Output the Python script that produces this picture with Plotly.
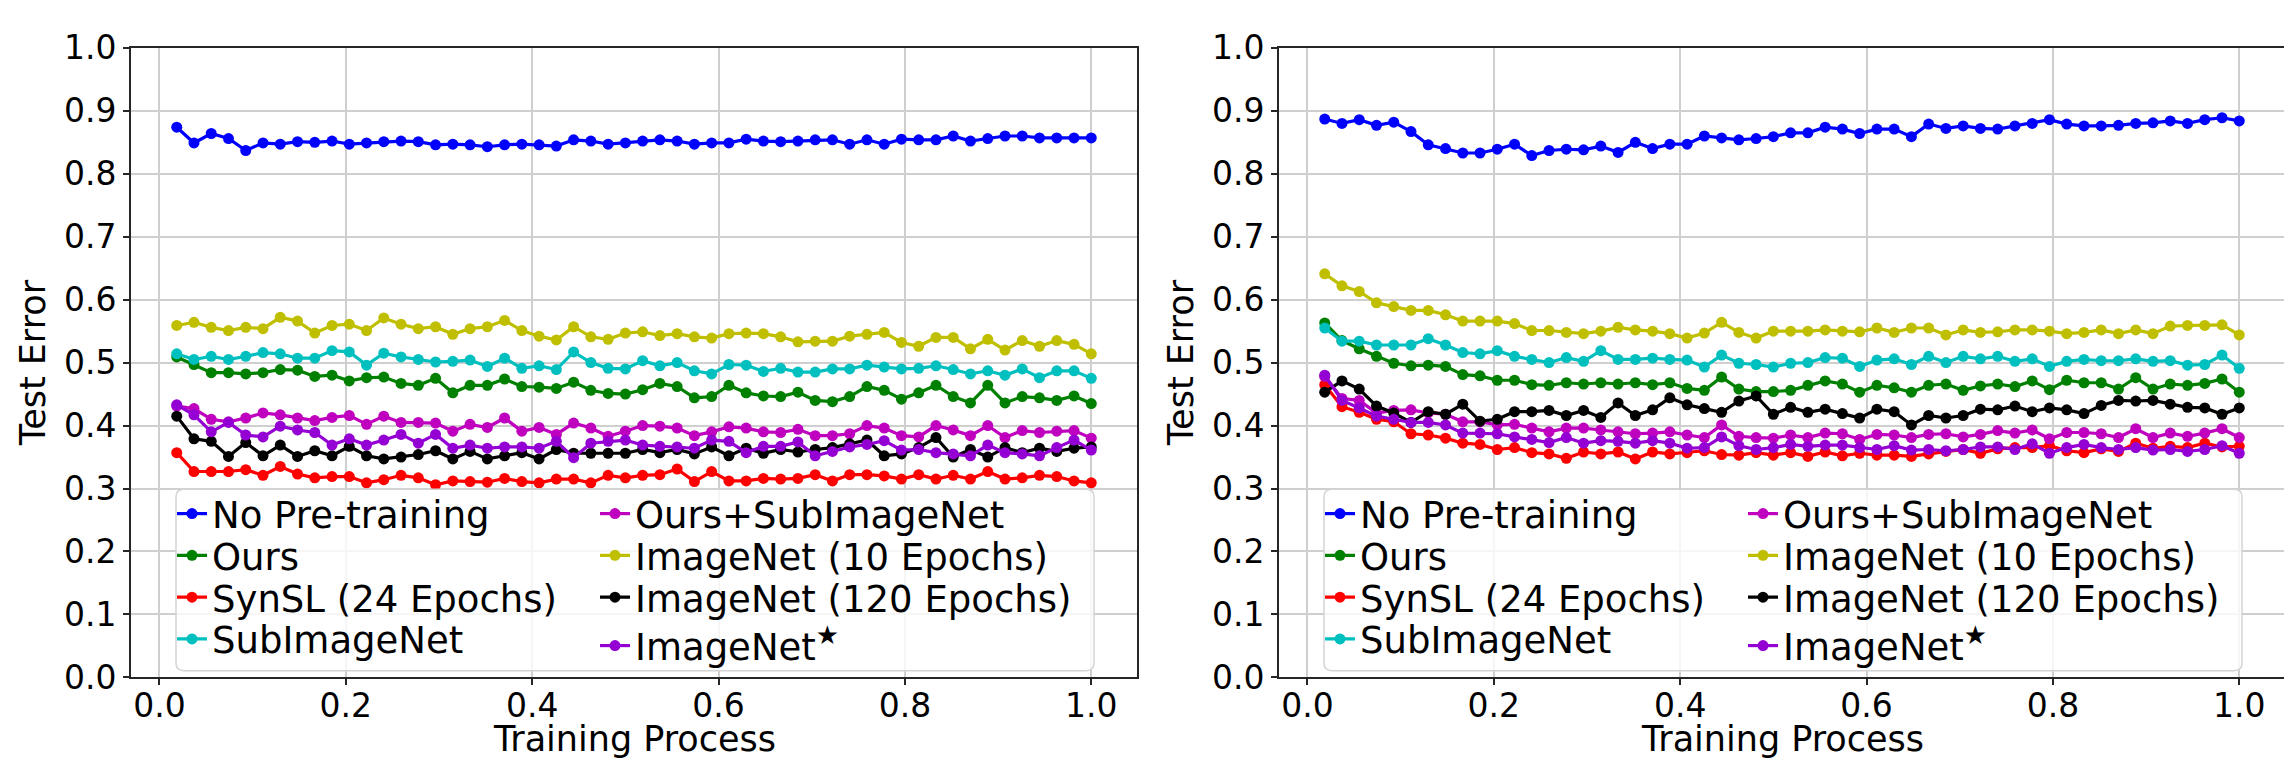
import numpy as np
import plotly.graph_objects as go

# ---------------- data ----------------
training_process = np.arange(1, 55) / 54.0

series_names = ["No Pre-training", "Ours", "SynSL (24 Epochs)", "SubImageNet",
                "Ours+SubImageNet", "ImageNet (10 Epochs)", "ImageNet (120 Epochs)",
                "ImageNet<sup>★</sup>"]
series_colors = ["#0000ff", "#008000", "#ff0000", "#00bfbf",
                 "#bf00bf", "#bfbf00", "#000000", "#9400d3"]

left_no_pretraining = [0.874,0.849,0.864,0.856,0.837,0.849,0.847,0.851,0.850,0.852,
                       0.847,0.849,0.851,0.852,0.851,0.846,0.847,0.846,0.843,0.846,
                       0.847,0.846,0.844,0.854,0.852,0.847,0.849,0.852,0.854,0.852,
                       0.847,0.849,0.849,0.855,0.852,0.851,0.852,0.854,0.854,0.847,
                       0.854,0.847,0.855,0.854,0.854,0.860,0.852,0.856,0.860,0.860,
                       0.857,0.857,0.857,0.857]
left_ours = [0.509,0.497,0.484,0.484,0.482,0.484,0.489,0.488,0.478,0.480,
             0.471,0.476,0.477,0.467,0.464,0.475,0.452,0.464,0.464,0.474,
             0.462,0.461,0.459,0.469,0.456,0.451,0.450,
             0.457,0.467,0.462,0.444,0.446,0.464,0.452,0.447,0.446,0.453,
             0.440,0.438,0.446,0.462,0.456,0.442,0.452,0.464,0.446,0.436,
             0.464,0.436,0.446,0.444,0.440,0.447,0.435]
left_synsl = [0.357,0.327,0.327,0.327,0.330,0.321,0.335,0.323,0.317,0.319,
              0.319,0.309,0.314,0.321,0.317,0.306,0.312,0.311,0.310,0.316,
              0.311,0.309,0.315,0.315,0.309,0.321,0.317,
              0.321,0.322,0.331,0.311,0.327,0.312,0.312,0.316,0.315,0.316,
              0.322,0.312,0.322,0.322,0.320,0.315,0.322,0.315,0.321,0.315,
              0.327,0.315,0.317,0.321,0.319,0.312,0.309]
left_subimagenet = [0.514,0.505,0.510,0.505,0.510,0.516,0.514,0.507,0.507,0.519,
                    0.517,0.496,0.515,0.509,0.505,0.501,0.502,0.504,0.494,0.507,
                    0.491,0.495,0.489,0.517,0.500,0.491,0.490,
                    0.503,0.495,0.500,0.487,0.482,0.497,0.496,0.486,0.491,0.485,
                    0.485,0.490,0.490,0.496,0.493,0.490,0.491,0.495,0.489,0.482,
                    0.487,0.480,0.490,0.476,0.487,0.487,0.475]
left_ours_sub = [0.431,0.427,0.410,0.406,0.412,0.420,0.417,0.412,0.408,0.413,
                 0.416,0.402,0.415,0.405,0.405,0.404,0.391,0.402,0.397,0.412,
                 0.391,0.397,0.386,0.404,0.396,0.383,0.391,
                 0.400,0.399,0.396,0.384,0.390,0.398,0.396,0.390,0.389,0.394,
                 0.384,0.384,0.387,0.400,0.396,0.384,0.382,0.400,0.393,0.384,
                 0.400,0.381,0.392,0.389,0.391,0.392,0.380]
left_imagenet10 = [0.559,0.564,0.556,0.551,0.556,0.554,0.572,0.566,0.547,0.559,
                   0.561,0.551,0.571,0.561,0.554,0.557,0.545,0.554,0.557,0.567,
                   0.551,0.542,0.536,0.557,0.541,0.537,0.547,
                   0.549,0.543,0.546,0.541,0.539,0.546,0.547,0.546,0.541,0.533,
                   0.534,0.534,0.542,0.545,0.548,0.532,0.526,0.540,0.540,0.522,
                   0.537,0.520,0.535,0.526,0.535,0.529,0.514]
left_imagenet120 = [0.415,0.379,0.375,0.351,0.373,0.352,0.369,0.351,0.360,0.352,
                    0.367,0.352,0.347,0.350,0.354,0.360,0.347,0.359,0.347,0.352,
                    0.357,0.347,0.362,0.356,0.356,0.356,0.356,
                    0.362,0.357,0.362,0.355,0.366,0.352,0.364,0.356,0.362,0.358,
                    0.362,0.365,0.371,0.377,0.352,0.355,0.365,0.381,0.350,0.362,
                    0.350,0.365,0.357,0.364,0.359,0.364,0.366]
left_imagenet_star = [0.433,0.417,0.390,0.405,0.385,0.382,0.399,0.393,0.389,0.369,
                      0.379,0.369,0.377,0.386,0.372,0.386,0.364,0.369,0.364,0.366,
                      0.366,0.364,0.375,0.349,0.372,0.375,0.377,
                      0.369,0.367,0.366,0.364,0.377,0.375,0.357,0.367,0.367,0.374,
                      0.352,0.359,0.366,0.370,0.376,0.361,0.362,0.357,0.355,0.352,
                      0.369,0.357,0.355,0.352,0.365,0.377,0.361]

right_no_pretraining = [0.887,0.880,0.886,0.877,0.882,0.867,0.846,0.840,0.833,0.833,
                        0.839,0.847,0.829,0.837,0.839,0.838,0.844,0.834,0.850,0.840,
                        0.847,0.847,0.860,0.857,0.854,0.856,0.859,0.865,0.865,0.874,
                        0.871,0.864,0.871,0.871,0.859,0.879,0.872,0.876,0.872,0.871,
                        0.876,0.880,0.886,0.879,0.876,0.876,0.877,0.880,0.881,0.884,
                        0.880,0.886,0.889,0.884]
right_ours = [0.563,0.535,0.522,0.510,0.499,0.495,0.496,0.494,0.481,0.479,
              0.472,0.472,0.465,0.464,0.468,0.466,0.468,0.466,0.468,0.465,
              0.468,0.459,0.456,0.477,0.458,0.454,0.454,
              0.456,0.464,0.471,0.466,0.453,0.464,0.460,0.453,0.464,0.466,
              0.456,0.463,0.466,0.462,0.471,0.457,0.472,0.468,0.468,0.458,
              0.476,0.458,0.466,0.464,0.467,0.474,0.453]
right_synsl = [0.465,0.430,0.421,0.410,0.406,0.387,0.385,0.380,0.372,0.370,
               0.362,0.365,0.357,0.355,0.348,0.358,0.355,0.358,0.347,0.358,
               0.355,0.357,0.360,0.354,0.353,0.357,0.353,
               0.357,0.351,0.358,0.352,0.356,0.353,0.353,0.351,0.355,0.359,
               0.362,0.356,0.363,0.365,0.365,0.368,0.360,0.357,0.363,0.359,
               0.372,0.364,0.367,0.365,0.372,0.366,0.367]
right_subimagenet = [0.555,0.534,0.534,0.528,0.528,0.528,0.538,0.528,0.516,0.514,
                     0.519,0.510,0.505,0.500,0.508,0.502,0.519,0.505,0.505,0.507,
                     0.505,0.504,0.493,0.512,0.499,0.497,0.493,
                     0.499,0.500,0.508,0.507,0.494,0.504,0.506,0.497,0.510,0.500,
                     0.510,0.506,0.510,0.502,0.506,0.494,0.502,0.505,0.503,0.503,
                     0.506,0.502,0.503,0.496,0.497,0.512,0.491]
right_ours_sub = [0.478,0.443,0.440,0.420,0.424,0.425,0.420,0.418,0.406,0.406,
                  0.401,0.402,0.396,0.390,0.396,0.396,0.393,0.390,0.387,0.388,
                  0.390,0.385,0.381,0.401,0.383,0.381,0.380,
                  0.385,0.381,0.388,0.387,0.378,0.386,0.385,0.381,0.386,0.387,
                  0.382,0.386,0.392,0.388,0.393,0.379,0.389,0.389,0.387,0.381,
                  0.395,0.381,0.388,0.383,0.388,0.395,0.381]
right_imagenet10 = [0.641,0.622,0.613,0.595,0.589,0.583,0.583,0.576,0.566,0.566,
                    0.566,0.562,0.551,0.551,0.548,0.546,0.550,0.556,0.552,0.550,
                    0.546,0.539,0.547,0.564,0.548,0.539,0.550,
                    0.550,0.550,0.552,0.550,0.549,0.555,0.548,0.555,0.555,0.544,
                    0.552,0.548,0.549,0.552,0.552,0.550,0.546,0.548,0.552,0.546,
                    0.552,0.546,0.558,0.559,0.559,0.560,0.544]
right_imagenet120 = [0.453,0.471,0.458,0.431,0.420,0.405,0.422,0.418,0.434,0.407,
                     0.410,0.422,0.422,0.424,0.416,0.424,0.413,0.436,0.416,0.425,
                     0.444,0.433,0.427,0.421,0.439,0.447,0.418,
                     0.429,0.421,0.426,0.419,0.412,0.426,0.422,0.401,0.416,0.412,
                     0.416,0.426,0.425,0.431,0.422,0.428,0.425,0.419,0.432,0.440,
                     0.439,0.440,0.434,0.429,0.428,0.418,0.428]
right_imagenet_star = [0.480,0.440,0.428,0.415,0.410,0.405,0.405,0.401,0.388,0.388,
                       0.387,0.382,0.378,0.373,0.381,0.372,0.376,0.375,0.372,0.376,
                       0.372,0.364,0.365,0.382,0.368,0.362,0.365,
                       0.370,0.367,0.369,0.369,0.365,0.362,0.368,0.361,0.362,0.360,
                       0.362,0.366,0.366,0.362,0.371,0.356,0.365,0.370,0.365,0.362,
                       0.365,0.361,0.362,0.359,0.362,0.368,0.356]

left_series = [left_no_pretraining, left_ours, left_synsl, left_subimagenet,
               left_ours_sub, left_imagenet10, left_imagenet120, left_imagenet_star]
right_series = [right_no_pretraining, right_ours, right_synsl, right_subimagenet,
                right_ours_sub, right_imagenet10, right_imagenet120, right_imagenet_star]

y_ticks = [0.0, 0.1, 0.2, 0.3, 0.4, 0.5, 0.6, 0.7, 0.8, 0.9, 1.0]
x_ticks = [0.0, 0.2, 0.4, 0.6, 0.8, 1.0]
x_title = "Training Process"
y_title = "Test Error"

# ---------------- layout constants ----------------
W, H = 2292, 771
TICK_FS = 33
TITLE_FS = 35
LEG_FS = 37
FONT = "DejaVu Sans"

def px_x(p):
    return p / W

def px_y(p):
    return 1 - p / H

fig = go.Figure()

# legend row centres (px) and column x (px) inside each panel
row_y_col1 = [513, 557, 601, 645]
row_y_col2 = [513, 557, 601, 652]
col_x = [164, 587]
panel_offsets = [0, 1148]

legend_layout = {}
leg_idx = 0
for p, (xa, ya, data) in enumerate([("x", "y", left_series), ("x2", "y2", right_series)]):
    off = panel_offsets[p]
    for i, (name, color, vals) in enumerate(zip(series_names, series_colors, data)):
        leg_idx += 1
        lname = "legend" if leg_idx == 1 else f"legend{leg_idx}"
        col = 0 if i < 4 else 1
        ry = (row_y_col1 if col == 0 else row_y_col2)[i % 4]
        legend_layout[lname] = dict(
            x=px_x(col_x[col] + off), y=px_y(ry), xanchor="left", yanchor="middle",
            bgcolor="rgba(0,0,0,0)", borderwidth=0,
            font=dict(family=FONT, size=LEG_FS, color="black"),
            itemwidth=30, orientation="v", tracegroupgap=0)
        fig.add_trace(go.Scatter(
            x=training_process, y=vals, name=name, mode="lines+markers",
            xaxis=xa, yaxis=ya,
            line=dict(color=color, width=3.2),
            marker=dict(color=color, size=11),
            legend=lname, showlegend=True,
        ))

xmin = training_process[0]
xmax = training_process[-1]
pad = 0.05 * (xmax - xmin)
xrange_ = [xmin - pad, xmax + pad]

axis_common = dict(
    showline=True, linecolor="#262626", linewidth=2, mirror=True,
    ticks="outside", ticklen=6, tickwidth=2, tickcolor="#262626",
    showgrid=True, gridcolor="#cfcfcf", gridwidth=1.5,
    zeroline=False,
    tickfont=dict(family=FONT, size=TICK_FS, color="black"),
)

dom_y = [px_y(685), px_y(22)]
dom_x1 = [px_x(123), px_x(1129)]
dom_x2 = [px_x(1271), px_x(2277)]
yt = dict(text=y_title, font=dict(family=FONT, size=TITLE_FS, color="black"), standoff=8)
fig.update_layout(
    xaxis=dict(domain=dom_x1, range=xrange_, tickvals=x_ticks, ticklabelstandoff=-8,
               tickformat=".1f", anchor="y", **axis_common),
    yaxis=dict(domain=dom_y, range=[0, 1], tickvals=y_ticks, tickformat=".1f", anchor="x",
               title=yt, **axis_common),
    xaxis2=dict(domain=dom_x2, range=xrange_, tickvals=x_ticks, ticklabelstandoff=-8,
                tickformat=".1f", anchor="y2", **axis_common),
    yaxis2=dict(domain=dom_y, range=[0, 1], tickvals=y_ticks, tickformat=".1f", anchor="x2",
                title=yt, **axis_common),
    **legend_layout,
)

# x-axis titles as annotations placed just under the tick labels
annotations = []
for dom in (dom_x1, dom_x2):
    annotations.append(dict(text=x_title, xref="paper", yref="paper",
                            x=(dom[0] + dom[1]) / 2, y=px_y(750),
                            xanchor="center", yanchor="middle", showarrow=False,
                            font=dict(family=FONT, size=TITLE_FS, color="black")))

def rounded_rect(x0, y0, x1, y1, r=8):
    X = px_x
    Y = px_y
    return (f"M {X(x0 + r)},{Y(y0)} L {X(x1 - r)},{Y(y0)} Q {X(x1)},{Y(y0)} {X(x1)},{Y(y0 + r)} "
            f"L {X(x1)},{Y(y1 - r)} Q {X(x1)},{Y(y1)} {X(x1 - r)},{Y(y1)} "
            f"L {X(x0 + r)},{Y(y1)} Q {X(x0)},{Y(y1)} {X(x0)},{Y(y1 - r)} "
            f"L {X(x0)},{Y(y0 + r)} Q {X(x0)},{Y(y0)} {X(x0 + r)},{Y(y0)} Z")

shapes = []
for off in panel_offsets:
    shapes.append(dict(type="path", xref="paper", yref="paper",
                       path=rounded_rect(168 + off, 487, 1086 + off, 678),
                       fillcolor="rgba(255,255,255,0.8)",
                       line=dict(color="#d4d4d4", width=1.5), layer="above"))

fig.update_layout(
    shapes=shapes,
    annotations=annotations,
    width=W, height=H,
    margin=dict(l=0, r=0, t=0, b=0),
    paper_bgcolor="white", plot_bgcolor="white",
    font=dict(family=FONT, size=TICK_FS, color="black"),
)

fig.write_html("out.html")
